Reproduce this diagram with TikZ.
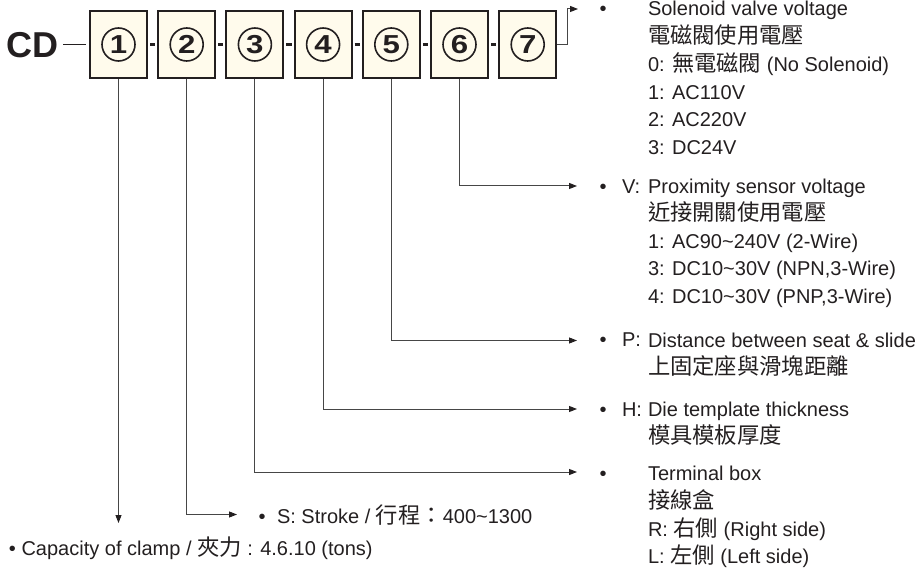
\documentclass[tikz,border=0pt]{standalone}
\usepackage{fontspec}
\usepackage{graphicx}
\setmainfont{Liberation Sans}
\newfontfamily\cjk{Noto Sans CJK TC}[Scale=1.115]
\usetikzlibrary{arrows.meta,calc}
\definecolor{ink}{RGB}{35,31,32}
\definecolor{cream}{RGB}{255,251,236}
\definecolor{wire}{RGB}{70,70,70}
\begin{document}
\begin{tikzpicture}[x=1pt,y=-1pt,
  codebox/.style={draw=ink,line width=2pt,fill=cream,minimum width=57pt,minimum height=67pt,inner sep=0pt},
  numcirc/.style={circle,draw=ink,line width=1.6pt,fill=cream,minimum size=33pt,inner sep=0pt,text=ink,font=\fontsize{26}{26}\selectfont\bfseries},
  sepdash/.style={draw=ink,line width=2.5pt},
  conn/.style={draw=wire,line width=1pt,-{Triangle[length=8pt,width=6pt,color=ink]}},
  txt/.style={inner sep=0pt,outer sep=0pt,text=ink,font=\fontsize{20}{27.8}\selectfont,align=left},
  line/.style={txt,anchor=base west},
  block/.style={txt,anchor=north west}
]
\useasboundingbox (0,0) rectangle (924,569);

% code boxes
\foreach \i in {1,...,7}{
  \node[codebox] (b\i) at ({118.5+68.2*(\i-1)},44.5) {};
  \node[numcirc] (c\i) at (b\i.center) {\scalebox{1.2}[1]{\i}};
}
\foreach \i/\j in {1/2,2/3,3/4,4/5,5/6,6/7}{
  \draw[sepdash] ($(b\i.east)+(2,0)$) -- ($(b\j.west)+(-2,0)$);
}

% CD prefix
\node[inner sep=0pt,outer sep=0pt,anchor=base west,text=ink,font=\fontsize{36}{36}\selectfont\bfseries] (cd) at (6.5,58) {CD};
\draw[ink,line width=1.8pt] ($(cd.east |- b1.west)+(5,0)$) -- ($(b1.west)+(-3,0)$);

% arrow targets
\coordinate (a7) at (578,9);
\coordinate (a6) at (577,186);
\coordinate (a5) at (577,340.5);
\coordinate (a4) at (577,409);
\coordinate (a3) at (577,472);
\coordinate (a2) at (237,514.5);
\coordinate (a1) at (118.5,523);

\draw[conn] (b7.east) -- ++(10,0) |- (a7);
\draw[conn] (b6.south) |- (a6);
\draw[conn] (b5.south) |- (a5);
\draw[conn] (b4.south) |- (a4);
\draw[conn] (b3.south) |- (a3);
\draw[conn] (b2.south) |- (a2);
\draw[conn] (b1.south) -- (a1);

% bullets
\node[line] (u7) at (599.5,15.7) {•};
\node[line] (u6) at (599.5,193.5) {•};
\node[line] (u5) at (599.5,347) {•};
\node[line] (u4) at (599.5,416) {•};
\node[line] (u3) at (599.5,480.5) {•};
\node[line] (u2) at (258.5,523) {•};

% labels
\node[line] (l6) at (622,193.5) {V:};
\node[line] (l5) at (622,347) {P:};
\node[line] (l4) at (622,416) {H:};

% text blocks
\node[block] (t7) at (648,{15.7-16}) {\rule{0pt}{16pt}Solenoid valve voltage\\
{\cjk 電磁閥使用電壓}\\
0: {\cjk 無電磁閥} (No Solenoid)\\
1: AC110V\\
2: AC220V\\
3: DC24V};

\node[block,font=\fontsize{20}{27.5}\selectfont] (t6) at (648,{193.5-16}) {\rule{0pt}{16pt}Proximity sensor voltage\\
{\cjk 近接開關使用電壓}\\
1: AC90\textasciitilde240V (2-Wire)\\
3: DC10\textasciitilde30V (NPN,3-Wire)\\
4: DC10\textasciitilde30V (PNP,3-Wire)};

\node[block] (t5) at (648,{347-16}) {\rule{0pt}{16pt}Distance between seat \& slide\\
{\cjk 上固定座與滑塊距離}};

\node[block] (t4) at (648,{416-16}) {\rule{0pt}{16pt}Die template thickness\\
{\cjk 模具模板厚度}};

\node[block] (t3) at (648,{480.5-16}) {\rule{0pt}{16pt}Terminal box\\
{\cjk 接線盒}\\
R: {\cjk 右側} (Right side)\\
L: {\cjk 左側} (Left side)};

\node[line] (t2) at (277,523) {S: Stroke / {\cjk 行程：}400\textasciitilde1300};

\node[line] (t1) at (9,555) {• Capacity of clamp / {\cjk 夾力} : 4.6.10 (tons)};
\end{tikzpicture}
\end{document}
